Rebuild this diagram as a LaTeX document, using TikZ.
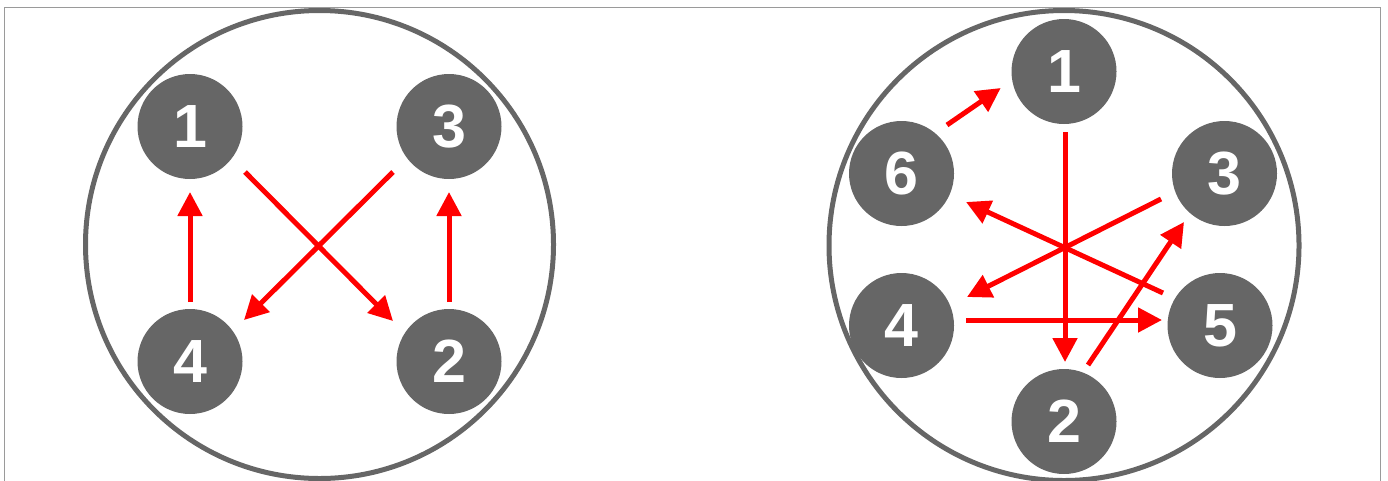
\documentclass[tikz,border=0pt]{standalone}
\usepackage{fontspec}
\setmainfont{Liberation Sans}
\usetikzlibrary{arrows.meta,calc}
\definecolor{nodegray}{HTML}{666666}
\definecolor{framegray}{HTML}{9A9A9A}
\tikzset{
  num/.style={circle,fill=nodegray,minimum size=105pt,inner sep=0pt,text=white,
    font=\fontsize{61}{61}\selectfont\bfseries},
  ring/.style={draw=nodegray,line width=5pt},
  link/.style={draw=red,line width=5pt,-{Triangle[length=24pt,width=24pt]}}
}
\begin{document}
\begin{tikzpicture}[x=1pt,y=-1pt]
\useasboundingbox (0,0) rectangle (1388,480);
\begin{scope}
\clip (0,0) rectangle (1388,480);
\draw[framegray,line width=1pt] (4,7) rectangle (1380,500);
% left group
\node[ring,circle,minimum size=468pt,inner sep=0pt] (L) at (319.5,244.5) {};
\node[num] (a1) at (190,126.5) {1};
\node[num] (a3) at (449,126.5) {3};
\node[num] (a4) at (190,361.5) {4};
\node[num] (a2) at (449,361.5) {2};
\draw[link] ($(a4)+(0,-59.5)$) -- ($(a1)+(0,65.5)$);
\draw[link] ($(a2)+(0,-59.5)$) -- ($(a3)+(0,65.5)$);
\draw[link] ($(a1)+(55,45.5)$) -- ($(a2)+(-56,-40.5)$);
\draw[link] ($(a3)+(-56,45.5)$) -- ($(a4)+(54,-41.5)$);
% right group
\node[ring,circle,minimum size=470pt,inner sep=0pt] (R) at (1064,245.5) {};
\node[num] (b1) at (1064,71.5) {1};
\node[num] (b2) at (1064,421.5) {2};
\node[num] (b3) at (1224.5,173.5) {3};
\node[num] (b5) at (1220,325.5) {5};
\node[num] (b6) at (901.5,173.5) {6};
\node[num] (b4) at (901.5,325.5) {4};
\draw[link] ($(b6)+(45.5,-48.5)$) -- ($(b1)+(-63.3,16.5)$);
\draw[link] ($(b1)+(1,60.5)$) -- ($(b2)+(1,-59.5)$);
\draw[link] ($(b3)+(-63.5,25.5)$) -- ($(b4)+(65.5,-28.5)$);
\draw[link] ($(b5)+(-57,-32.5)$) -- ($(b6)+(64.5,28.5)$);
\draw[link] ($(b4)+(64.5,-5.5)$) -- ($(b5)+(-58,-5.5)$);
\draw[link] ($(b2)+(24,-56.5)$) -- ($(b3)+(-40.5,48.5)$);
\end{scope}
\end{tikzpicture}
\end{document}
